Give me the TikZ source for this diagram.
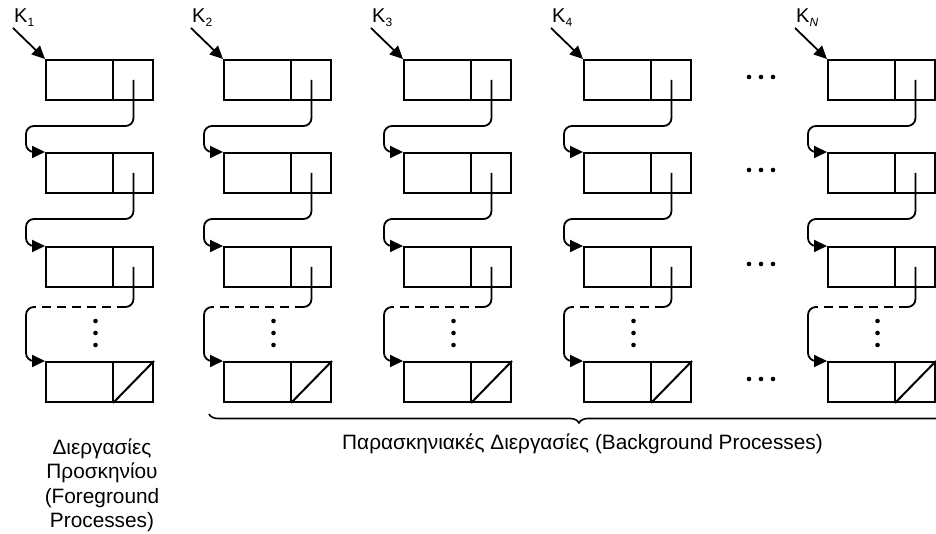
\documentclass[tikz,border=0pt]{standalone}
\usepackage{fontspec}
\setmainfont{Liberation Sans}
\usetikzlibrary{calc,shapes.multipart,arrows.meta,decorations.pathreplacing}

\begin{document}
\begin{tikzpicture}[x=1pt,y=1pt,
    cell/.style={rectangle split, rectangle split parts=2,
      rectangle split horizontal, draw, line width=2pt, inner sep=0pt},
    link/.style={line width=1.8pt, rounded corners=8pt},
    >={Triangle[length=13pt,width=12pt]},
    klabel/.style={inner sep=1pt, font=\fontsize{20}{20}\selectfont},
    caption/.style={align=center, font=\fontsize{20.8}{24.5}\selectfont}]
  \useasboundingbox (0,0) rectangle (936,534);
  \foreach \c/\x/\k in {1/99.5/1, 2/277.5/2, 3/457.5/3, 4/637.5/4, 5/881.5/\textit{N}} {
    % one list per column
    \foreach \r/\y in {1/454, 2/361, 3/267, 4/152}
      \node[cell] (b\c\r) at (\x,\y)
        {\rule{0pt}{40pt}\rule{66pt}{0pt}\nodepart{two}\rule{0pt}{40pt}\rule{39pt}{0pt}};
    \draw[line width=2pt] (b\c4.one split south) -- (b\c4.north east);
    \node[klabel, anchor=south west] (k\c) at ($(b\c1.north west)+(-32,31)$)
      {K\raisebox{-4pt}{\fontsize{12}{12}\selectfont\k}};
    \draw[link,->] (k\c.south west) -- (b\c1.north west);
    \foreach \r/\n in {1/2, 2/3}
      \draw[link,->] ($(b\c\r.one split)!.5!(b\c\r.east)$)
        |- ($(b\c\r.south west)+(-19,-25)$) |- (b\c\n.north west);
    % the elided part of the list
    \coordinate (s\c) at ($(b\c3.one split)!.5!(b\c3.east)$);
    \draw[link] (s\c) |- ($(s\c |- b\c3.south)+(-8,-19)$);
    \draw[link,dash pattern=on 9pt off 6pt] ($(s\c |- b\c3.south)+(-8,-19)$)
      -- ($(b\c3.south west)+(-11,-19)$);
    \draw[link,->] ($(b\c3.south west)+(-11,-19)$)
      -| ($(b\c4.north west)+(-19,0)$) -- (b\c4.north west);
    \foreach \d in {33,45,57}
      \fill ($(b\c3.south)+(-4,-\d)$) circle (2.3pt);
  }
  \foreach \r in {1,...,4}
    \foreach \d in {-12,0,12}
      \fill ($(b4\r.center)!.5!(b5\r.center)+(\d+1.5,3)$) circle (2.3pt);
  \draw[decorate, decoration={brace, mirror, amplitude=9pt}, line width=1.6pt]
    ($(b24.south west)+(-14,-11)$) -- ($(b54.south east)+(13,-11)$);
  \node[caption] (bg) at ($(b24.south west)!.5!(b54.south east)+(3,-41)$)
    {Παρασκηνιακές Διεργασίες (Background Processes)};
  \node[caption] (fg) at ($(b14.south)+(2.5,-82.5)$)
    {Διεργασίες\\Προσκηνίου\\(Foreground\\Processes)};
\end{tikzpicture}
\end{document}
